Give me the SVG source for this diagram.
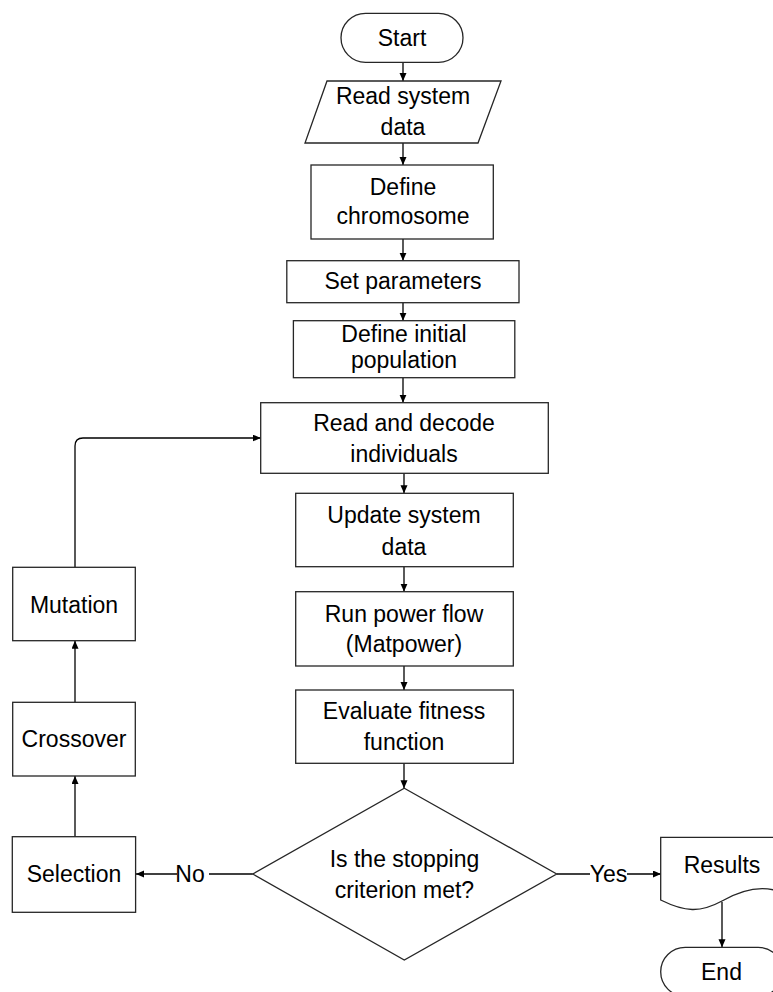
<svg xmlns="http://www.w3.org/2000/svg" width="773" height="992" viewBox="0 0 773 992">
<defs>
<style>
.s{fill:#fff;stroke:#262626;stroke-width:1.3}
.t{font-family:"Liberation Sans",Arial,sans-serif;font-size:23px;fill:#000;text-anchor:middle}
.c{fill:none;stroke:#000;stroke-width:1.3}
</style>
<marker id="ah" markerUnits="userSpaceOnUse" markerWidth="9" markerHeight="8" refX="8" refY="3.5" orient="auto">
<path d="M0,0 L8,3.5 L0,7 z" fill="#000"/>
</marker>
</defs>
<rect width="773" height="992" fill="#fff"/>

<g id="connectors">
<path class="c" marker-end="url(#ah)" d="M403,62.5 V81"/>
<path class="c" marker-end="url(#ah)" d="M403,143 V165"/>
<path class="c" marker-end="url(#ah)" d="M403,239 V260.7"/>
<path class="c" marker-end="url(#ah)" d="M403,302.7 V320.7"/>
<path class="c" marker-end="url(#ah)" d="M403,377.7 V402.7"/>
<path class="c" marker-end="url(#ah)" d="M404,473.3 V493.3"/>
<path class="c" marker-end="url(#ah)" d="M404,566.7 V591.7"/>
<path class="c" marker-end="url(#ah)" d="M404,666 V690"/>
<path class="c" marker-end="url(#ah)" d="M404,763.3 V788.3"/>
<path class="c" d="M252.7,874 H209"/>
<path class="c" marker-end="url(#ah)" d="M177,874 H136"/>
<path class="c" d="M556.7,874 H590"/>
<path class="c" marker-end="url(#ah)" d="M627,874 H661"/>
<path class="c" marker-end="url(#ah)" d="M722,902 V947.3"/>
<path class="c" marker-end="url(#ah)" d="M75,836.7 V776"/>
<path class="c" marker-end="url(#ah)" d="M75,702.3 V640.7"/>
<path class="c" marker-end="url(#ah)" d="M75,567.3 V446 Q75,438 83,438 H260.7"/>
<text class="t" x="190" y="881.7">No</text>
<text class="t" x="608.5" y="881.7">Yes</text>
</g>

<g id="start">
<rect class="s" x="341" y="13.3" width="122" height="49" rx="24.5"/>
<text class="t" x="402" y="45.7">Start</text>
</g>
<g id="read-system-data">
<polygon class="s" points="327,81 501,81 478,143 305,143"/>
<text class="t" x="403" y="104">Read system</text>
<text class="t" x="403" y="135">data</text>
</g>
<g id="define-chromosome">
<rect class="s" x="311" y="165" width="182.3" height="74"/>
<text class="t" x="403" y="195">Define</text>
<text class="t" x="403" y="224">chromosome</text>
</g>
<g id="set-parameters">
<rect class="s" x="286.8" y="260.7" width="232.2" height="42"/>
<text class="t" x="403" y="289">Set parameters</text>
</g>
<g id="define-initial-population">
<rect class="s" x="293.4" y="320.7" width="221.4" height="57"/>
<text class="t" x="404" y="341.5">Define initial</text>
<text class="t" x="404" y="368">population</text>
</g>
<g id="read-decode">
<rect class="s" x="260.7" y="402.7" width="287.6" height="70.6"/>
<text class="t" x="404" y="430.5">Read and decode</text>
<text class="t" x="404" y="461.7">individuals</text>
</g>
<g id="update-system-data">
<rect class="s" x="295.7" y="493.3" width="217.6" height="73.4"/>
<text class="t" x="404" y="522.7">Update system</text>
<text class="t" x="404" y="555">data</text>
</g>
<g id="run-power-flow">
<rect class="s" x="295.7" y="591.7" width="217.6" height="74.3"/>
<text class="t" x="404" y="621.7">Run power flow</text>
<text class="t" x="404" y="651.7">(Matpower)</text>
</g>
<g id="evaluate-fitness">
<rect class="s" x="295.7" y="690" width="217.6" height="73.3"/>
<text class="t" x="404" y="719.3">Evaluate fitness</text>
<text class="t" x="404" y="750">function</text>
</g>
<g id="stopping-criterion">
<polygon class="s" points="404.3,788.3 556.7,874 404.3,960 252.7,874"/>
<text class="t" x="404.5" y="867.3">Is the stopping</text>
<text class="t" x="404.5" y="898.3">criterion met?</text>
</g>
<g id="mutation">
<rect class="s" x="12.7" y="567.3" width="122.6" height="73.4"/>
<text class="t" x="74" y="612.7">Mutation</text>
</g>
<g id="crossover">
<rect class="s" x="12.7" y="702.3" width="122.6" height="73.7"/>
<text class="t" x="74" y="746.7">Crossover</text>
</g>
<g id="selection">
<rect class="s" x="12.3" y="836.7" width="123.3" height="75.6"/>
<text class="t" x="74" y="881.7">Selection</text>
</g>
<g id="results">
<path class="s" d="M660.7,837.3 H783 V893 C765,885 745,888 722,901 C700,913 685,912 660.7,900 Z"/>
<text class="t" x="722" y="873.3">Results</text>
</g>
<g id="end">
<rect class="s" x="660.7" y="947.3" width="122" height="49" rx="24.5"/>
<text class="t" x="721.5" y="980">End</text>
</g>
</svg>
